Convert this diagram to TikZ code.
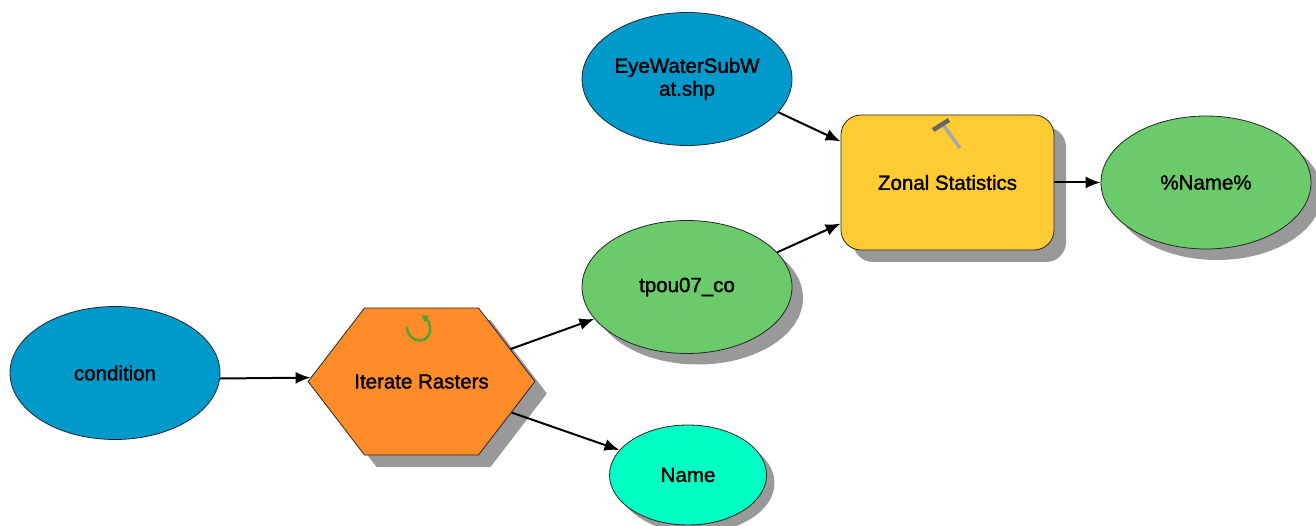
\documentclass[tikz,border=0pt]{standalone}
\usepackage{fontspec}
\setmainfont{Liberation Sans}[FakeBold=1.5]
\usepackage{xcolor}
\usetikzlibrary{shapes.geometric,shapes.symbols,shadows,arrows.meta}
\definecolor{inblue}{HTML}{0099CC}
\definecolor{outgreen}{HTML}{6BCB6B}
\definecolor{valaqua}{HTML}{00FFC5}
\definecolor{iterorange}{HTML}{FF8C29}
\definecolor{toolyellow}{HTML}{FFCC33}
\definecolor{shadowgray}{HTML}{999999}
\definecolor{icongreen}{HTML}{4CA32A}

\begin{document}
\begin{tikzpicture}[x=1pt, y=-1pt,
  box/.style={draw=black!85, line width=0.8pt, align=center, inner sep=0pt,
    font=\fontsize{20.5}{23}\selectfont},
  cast/.style={general shadow={fill=shadowgray, shadow xshift=#1, shadow yshift=-#1}},
  data/.style={box, ellipse, minimum width=210pt, minimum height=133pt},
  flow/.style={-{Latex[length=15pt,width=12pt]}, line width=2pt, black}]
\useasboundingbox (0,0) rectangle (1316,526);
\node[data, fill=inblue] (condition) at (115,373) {condition};
\node[data, fill=inblue] (eyewater) at (687,79) {EyeWaterSubW\\at.shp};
\node[data, cast=11pt, fill=outgreen] (tpou) at (687,287) {tpou07\_co};
\node[data, cast=11pt, fill=outgreen] (result) at (1206,182.5) {\%Name\%};
\node[data, cast=8pt, fill=valaqua, minimum width=157pt, minimum height=100pt] (name) at (688,475) {Name};
\node[box, cast=12pt, fill=iterorange, signal, signal to=east and west, signal pointer angle=105,
  minimum height=147pt] (iterate) at (421.5,381.5) {\makebox[114pt]{Iterate Rasters}};
\node[box, cast=12pt, fill=toolyellow, rectangle, rounded corners=20pt,
  minimum width=213pt, minimum height=135pt] (zonal) at (947.5,182.5) {Zonal Statistics};
\draw[flow] (condition.-3) to (iterate.178);
\draw[flow] (iterate.20) to (tpou.199);
\draw[flow] (iterate.-19) to (name.160);
\draw[flow] (eyewater.-20) to (zonal.159);
\draw[flow] (tpou.21) to (zonal.201);
\draw[flow] (zonal.east) to (result.west);
\draw[line width=2.4pt, color=icongreen, -{Latex[length=7pt,width=8pt]}]
  (407,327) .. controls (408,345) and (432,345) .. (430,327) .. controls (429,321) and (427,319) .. (421,315);
\draw[line width=3.4pt, color=black!35] (944,126) to (960,148);
\draw[line width=4.5pt, color=black!60] (933,130) to (949,120);
\end{tikzpicture}
\end{document}
